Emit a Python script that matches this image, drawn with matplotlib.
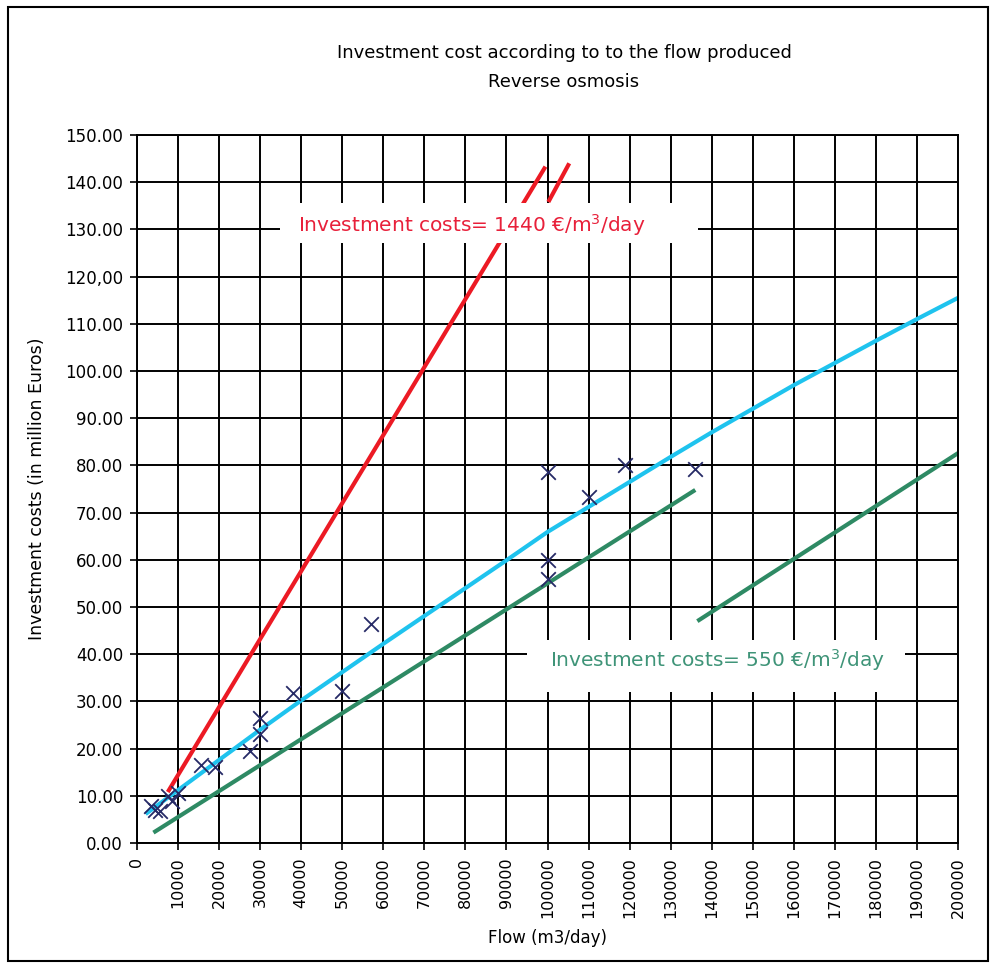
import matplotlib
matplotlib.use('Agg')
import matplotlib.pyplot as plt
from matplotlib.patches import Rectangle

plt.rcParams['font.family'] = ['DejaVu Sans']

# measured plants (flow m3/day, cost million euros)
flow_pts = [3500, 4500, 5500, 7500, 8500, 10000, 15500, 19000, 27500, 30000, 30000,
            38000, 50000, 57000, 100000, 100000, 100000, 110000, 119000, 136000]
cost_pts = [7.8, 7.0, 6.8, 10.0, 9.0, 10.5, 16.5, 16.2, 19.5, 23.0, 26.5,
            31.8, 32.2, 46.3, 78.5, 60.0, 56.0, 73.3, 80.0, 79.2]

# fitted trend (cyan)
trend_x = [2500, 10000, 20000, 30000, 40000, 50000, 60000, 70000, 80000, 90000, 100000,
           110000, 120000, 130000, 140000, 150000, 160000, 170000, 180000, 190000, 200000]
trend_y = [6.4, 11.2, 17.6, 24.0, 30.2, 36.2, 42.2, 48.1, 54.0, 59.9, 65.9,
           71.2, 76.5, 81.8, 87.0, 92.0, 97.0, 101.7, 106.4, 111.0, 115.5]

# 1440 EUR/m3/day line (red) and its break mark
red_x = [7500, 99500]
red_y = [10.8, 143.3]
brk_x = [100200, 105300]
brk_y = [135.8, 144.0]

# 550 EUR/m3/day lines (green)
g1_x = [4000, 136000]
g1_y = [2.2, 74.8]
g2_x = [136500, 200000]
g2_y = [47.0, 82.6]

xticks = list(range(0, 200001, 10000))
yticks = list(range(0, 151, 10))
ylabels = ['%.2f' % v for v in yticks]
ylabels[12] = '120,00'

fig = plt.figure(figsize=(9.92, 9.64), dpi=100)
ax = fig.add_axes([137/992, 121/964, 821/992, 708/964])

ax.set_xlim(0, 200000)
ax.set_ylim(0, 150)
ax.set_xticks(xticks)
ax.set_xticklabels([str(v) for v in xticks], rotation=90, fontsize=11.5)
ax.set_yticks(yticks)
ax.set_yticklabels(ylabels, fontsize=12)
ax.tick_params(axis='both', length=5, width=1.2, color='black', pad=5)
ax.grid(True, color='black', linewidth=1.4)
ax.set_axisbelow(True)
for s in ax.spines.values():
    s.set_linewidth(1.4)

ax.plot(red_x, red_y, color='#ec1a24', linewidth=3, zorder=2, solid_capstyle='butt')
ax.plot(brk_x, brk_y, color='#ec1a24', linewidth=3, zorder=2, solid_capstyle='butt')
ax.plot(trend_x, trend_y, color='#1fc3ee', linewidth=3, zorder=2)
ax.plot(g1_x, g1_y, color='#2e8a64', linewidth=3, zorder=2, solid_capstyle='butt')
ax.plot(g2_x, g2_y, color='#2e8a64', linewidth=3, zorder=2, solid_capstyle='butt')
ax.scatter(flow_pts, cost_pts, marker='x', s=110, color='#262a66', linewidths=1.3, zorder=4)

# white label boxes hiding the grid
ax.add_patch(Rectangle((34800, 127.1), 101900, 8.5, facecolor='white', edgecolor='none', zorder=3))
ax.add_patch(Rectangle((95000, 32.0), 92000, 11.0, facecolor='white', edgecolor='none', zorder=3))
ax.text(81500, 130.9, 'Investment costs= 1440 €/m$^3$/day', color='#e8203a', fontsize=14.5,
        ha='center', va='center', zorder=5)
ax.text(141500, 38.8, 'Investment costs= 550 €/m$^3$/day', color='#3f9478', fontsize=14.5,
        ha='center', va='center', zorder=5)

ax.set_xlabel('Flow (m3/day)', fontsize=12, labelpad=8)
ax.set_ylabel('Investment costs (in million Euros)', fontsize=12.5, labelpad=14)

fig.text(564/992, 1 - 53/964, 'Investment cost according to to the flow produced',
         ha='center', va='center', fontsize=13)
fig.text(564/992, 1 - 82/964, 'Reverse osmosis', ha='center', va='center', fontsize=13)

fig.patches.append(Rectangle((8/992, 3/964), 980/992, 954/964, transform=fig.transFigure,
                             fill=False, edgecolor='black', linewidth=1.5))

plt.savefig('out.png', dpi=100)
